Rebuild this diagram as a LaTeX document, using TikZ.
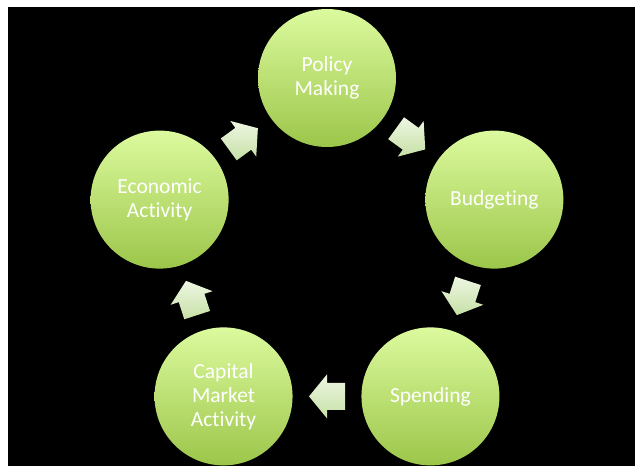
\documentclass[tikz,border=0pt]{standalone}
\usepackage{fontspec}
\setmainfont[Ligatures={NoCommon}]{Carlito}
\usetikzlibrary{calc}
\definecolor{ctop}{RGB}{220,250,158}
\definecolor{cmid}{RGB}{200,233,130}
\definecolor{cbot}{RGB}{156,198,74}
\definecolor{atop}{RGB}{238,247,226}
\definecolor{abot}{RGB}{198,224,166}
\newcommand\cycarrow[4]{%
  \coordinate (#4) at ($(#1)!0.5!(#2)$);
  \shade[top color=atop, bottom color=abot]
    ($(#4)+(#3:-18)+(#3+90:13.5)$) -- ($(#4)+(#3+90:13.5)$) -- ($(#4)+(#3+90:22)$) --
    ($(#4)+(#3:18)$) --
    ($(#4)+(#3-90:22)$) -- ($(#4)+(#3-90:13.5)$) -- ($(#4)+(#3:-18)+(#3-90:13.5)$) -- cycle;}
\begin{document}
\begin{tikzpicture}[x=1pt,y=1pt,
  stage/.style={circle, minimum size=138pt, inner sep=0pt,
    top color=ctop, middle color=cmid, bottom color=cbot,
    text=white, align=center, font=\fontsize{21.5}{24}\selectfont}]
\useasboundingbox (0,0) rectangle (635,466);
\fill[white] (0,0) rectangle (635,466);
\fill[black] (8,0) rectangle (635,459);
\coordinate (O) at (327,212);
\node[stage] (pm) at ($(O)+(90:176)$) {Policy\\Making};
\node[stage] (bu) at ($(O)+(18:176)$) {Budgeting};
\node[stage] (sp) at ($(O)+(-54:176)$) {Spending};
\node[stage] (cm) at ($(O)+(-126:176)$) {Capital\\Market\\Activity};
\node[stage] (ea) at ($(O)+(162:176)$) {Economic\\Activity};
\cycarrow{pm}{bu}{-36}{m1}
\cycarrow{bu}{sp}{-108}{m2}
\cycarrow{sp}{cm}{180}{m3}
\cycarrow{cm}{ea}{108}{m4}
\cycarrow{ea}{pm}{36}{m5}
\end{tikzpicture}
\end{document}
